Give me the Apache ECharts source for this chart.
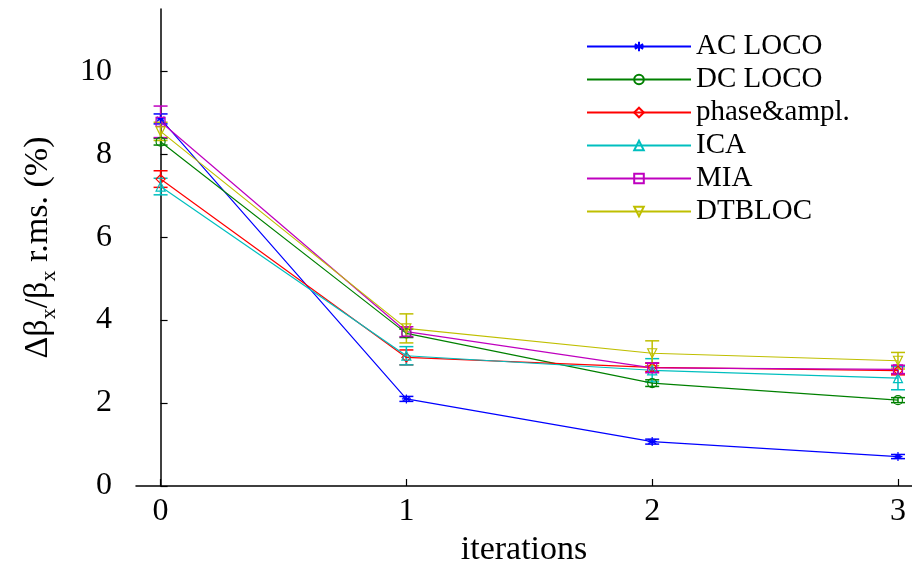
<!DOCTYPE html>
<html>
<head>
<meta charset="utf-8">
<script src="https://cdn.jsdelivr.net/npm/echarts@6/dist/echarts.min.js"></script>
<style>html,body{margin:0;padding:0;background:#fff}#c{width:912px;height:562px}</style>
</head>
<body>
<div id="c"></div>
<script>
const iterations = [0, 1, 2, 3];
const xTicks = [0, 1, 2, 3];
const yTicks = [0, 2, 4, 6, 8, 10];
const seriesNames = ['AC LOCO', 'DC LOCO', 'phase&ampl.', 'ICA', 'MIA', 'DTBLOC'];
const acLoco = [8.85, 2.10, 1.07, 0.71];
const acLocoErr = [0.12, 0.06, 0.06, 0.05];
const dcLoco = [8.30, 3.68, 2.48, 2.07];
const dcLocoErr = [0.08, 0.10, 0.08, 0.06];
const phaseAmpl = [7.40, 3.10, 2.86, 2.78];
const phaseAmplErr = [0.20, 0.18, 0.10, 0.10];
const ica = [7.22, 3.14, 2.79, 2.60];
const icaErr = [0.20, 0.22, 0.28, 0.28];
const mia = [8.78, 3.72, 2.85, 2.81];
const miaErr = [0.38, 0.12, 0.12, 0.10];
const dtbloc = [8.55, 3.80, 3.20, 3.02];
const dtblocErr = [0.22, 0.35, 0.30, 0.20];

const colors = ['#0000ff', '#008000', '#ff0000', '#00bfbf', '#bf00bf', '#bfbf00'];
const symbols = ['path://M5,0L5,10M0.7,2.5L9.3,7.5M0.7,7.5L9.3,2.5M0,5L10,5', 'circle', 'diamond', 'triangle', 'rect', 'triangle'];
const rotates = [0, 0, 0, 0, 0, 180];
const values = [acLoco, dcLoco, phaseAmpl, ica, mia, dtbloc];
const errs = [acLocoErr, dcLocoErr, phaseAmplErr, icaErr, miaErr, dtblocErr];
const FONT = 'Liberation Serif';

const series = [];
seriesNames.forEach((name, k) => {
  series.push({
    type: 'line', name: name,
    data: iterations.map((x, i) => [x, values[k][i]]),
    symbol: symbols[k], symbolSize: 9, symbolRotate: rotates[k],
    lineStyle: { color: colors[k], width: 1.2 },
    itemStyle: { color: k === 0 ? colors[k] : 'rgba(255,255,255,0)', borderColor: colors[k], borderWidth: 1.2 },
    z: 3
  });
});
seriesNames.forEach((name, k) => {
  const c = colors[k];
  series.push({
    type: 'custom', name: name + ' err',
    data: iterations.map((x, i) => [x, values[k][i], errs[k][i]]),
    renderItem: (params, api) => {
      const x = api.value(0), y = api.value(1), e = api.value(2);
      const t = api.coord([x, y + e]), b = api.coord([x, y - e]);
      const w = 7;
      const st = { stroke: c, lineWidth: 1.5 };
      return { type: 'group', children: [
        { type: 'line', shape: { x1: t[0], y1: t[1], x2: b[0], y2: b[1] }, style: st },
        { type: 'line', shape: { x1: t[0] - w, y1: t[1], x2: t[0] + w, y2: t[1] }, style: st },
        { type: 'line', shape: { x1: b[0] - w, y1: b[1], x2: b[0] + w, y2: b[1] }, style: st }
      ]};
    },
    z: 2
  });
});

const chart = echarts.init(document.getElementById('c'));
chart.setOption({
  animation: false,
  backgroundColor: '#fff',
  grid: { left: 136, top: 9, bottom: 76, right: 0, outerBoundsMode: 'none', containLabel: false },
  legend: {
    data: seriesNames, orient: 'vertical', left: 581, top: 27,
    itemWidth: 104, itemHeight: 12, itemGap: 4, itemTextGap: 12,
    textStyle: { fontFamily: FONT, fontSize: 29, lineHeight: 29, color: '#000' }
  },
  xAxis: {
    type: 'value', min: -0.1, max: 3.057,
    name: 'iterations', nameLocation: 'middle', nameGap: 42,
    nameTextStyle: { fontFamily: FONT, fontSize: 34, color: '#000' },
    axisLine: { lineStyle: { color: '#000', width: 1.5 } },
    axisTick: { inside: true, length: 7, customValues: xTicks, lineStyle: { color: '#000', width: 1.2 } },
    axisLabel: { customValues: xTicks, margin: 10, fontFamily: FONT, fontSize: 32, color: '#000' },
    splitLine: { show: false }
  },
  yAxis: {
    type: 'value', min: 0, max: 11.5,
    name: '{a|Δβ}{s|x}{a|/β}{s|x}{a| r.ms. (%)}', nameLocation: 'middle', nameGap: 76, nameRotate: 90,
    nameTextStyle: {
      color: '#000',
      rich: {
        a: { fontFamily: FONT, fontSize: 34, lineHeight: 44, color: '#000' },
        s: { fontFamily: FONT, fontSize: 22, lineHeight: 22, verticalAlign: 'bottom', color: '#000' }
      }
    },
    axisLine: { show: true, lineStyle: { color: '#000', width: 1.5 } },
    axisTick: { show: true, inside: true, length: 7, customValues: yTicks, lineStyle: { color: '#000', width: 1.2 } },
    axisLabel: { customValues: yTicks, margin: 24, fontFamily: FONT, fontSize: 32, color: '#000' },
    splitLine: { show: false }
  },
  series: series
});
</script>
</body>
</html>
